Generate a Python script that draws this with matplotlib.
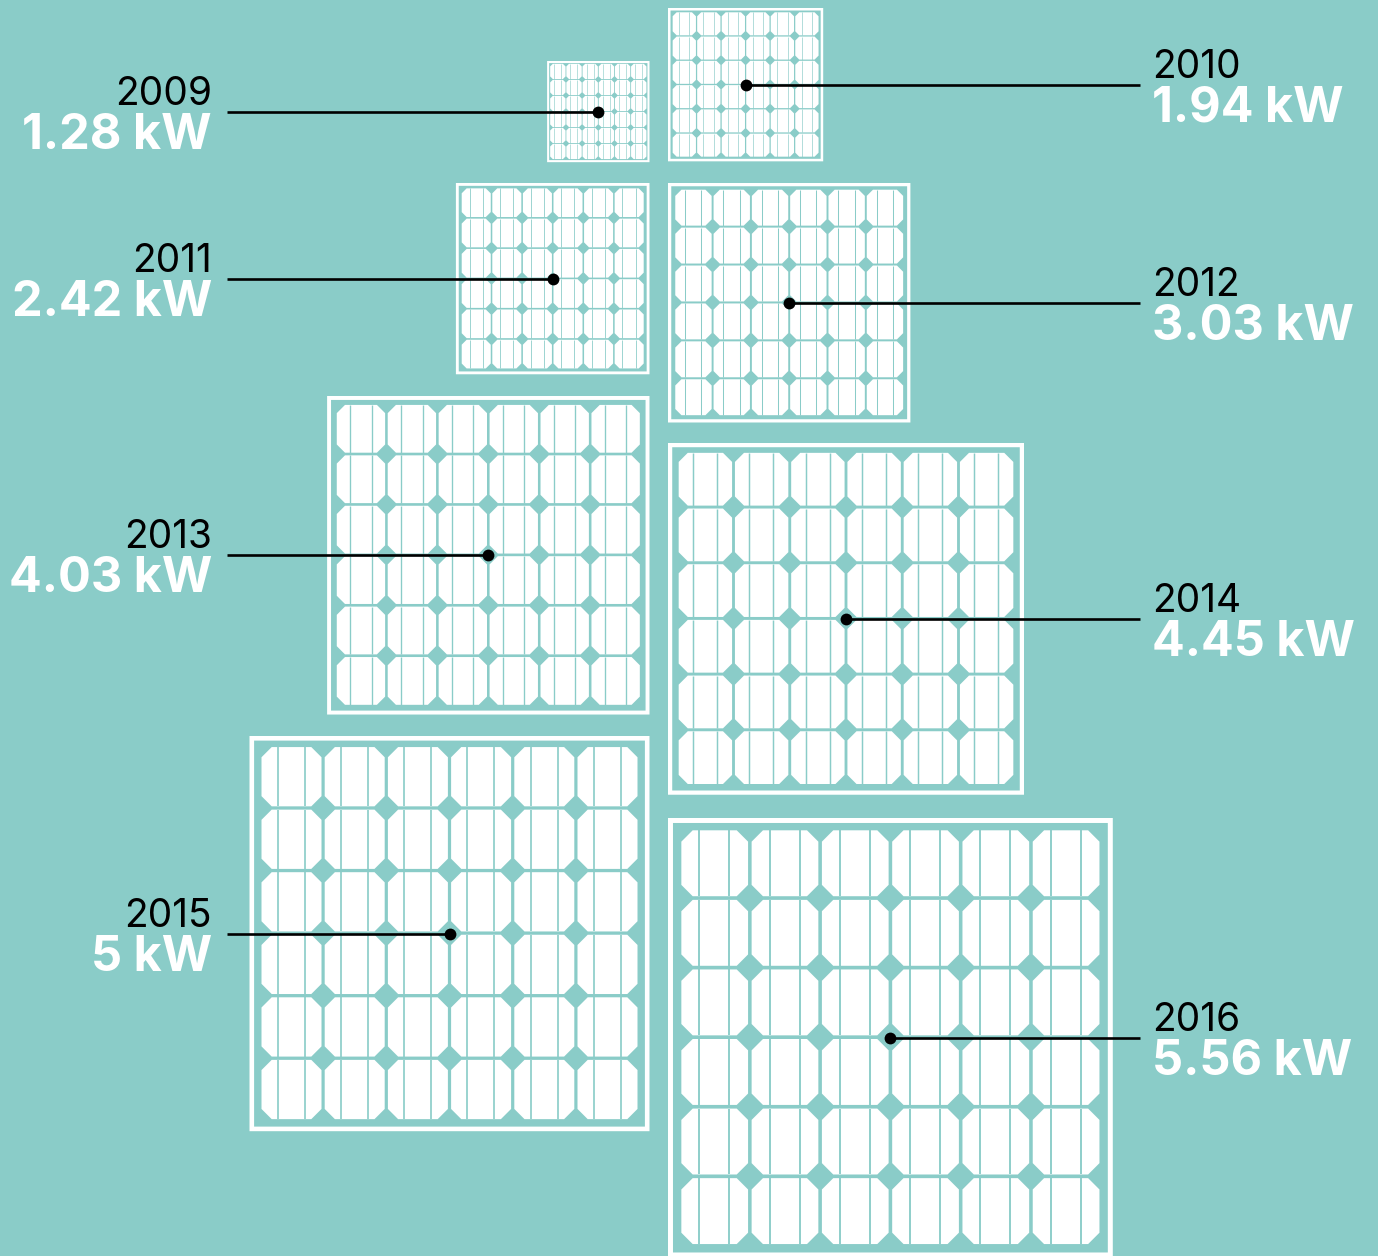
from matplotlib import pyplot as plt
from matplotlib.patches import Polygon, Rectangle

years = ['2009', '2010', '2011', '2012', '2013', '2014', '2015', '2016']
capacity_kw = [1.28, 1.94, 2.42, 3.03, 4.03, 4.45, 5.0, 5.56]
capacity_labels = ['1.28 kW', '1.94 kW', '2.42 kW', '3.03 kW', '4.03 kW', '4.45 kW', '5 kW', '5.56 kW']

# layout in pixels
panel_top = [61, 8, 183, 183, 396, 443, 736, 818]
LEFT_EDGE = 649.5
RIGHT_EDGE = 668
PX_PER_KW = 80
BG = '#8ACCC8'
WHITE = '#FFFFFF'

plt.rcParams['font.family'] = ['Inter', 'DejaVu Sans']

fig = plt.figure(figsize=(13.78, 12.56), dpi=100, facecolor=BG)
ax = fig.add_axes([0, 0, 1, 1])
ax.set_xlim(0, 1378)
ax.set_ylim(1256, 0)
ax.axis('off')


def draw_cell(ax, x, y, w, h, stripe):
    c = 0.17 * w
    pts = [(x+c, y), (x+w-c, y), (x+w, y+c), (x+w, y+h-c), (x+w-c, y+h), (x+c, y+h), (x, y+h-c), (x, y+c)]
    ax.add_patch(Polygon(pts, closed=True, facecolor=WHITE, edgecolor='none', zorder=2))
    for f in (0.27, 0.72):
        ax.plot([x+f*w, x+f*w], [y, y+h], color=BG, lw=stripe, solid_capstyle='butt', zorder=3)


def draw_panel(ax, x, y, w, h):
    frame = 1.2 + 0.0085 * w
    ax.add_patch(Rectangle((x+frame/2, y+frame/2), w-frame, h-frame, facecolor='none', edgecolor=WHITE, lw=frame*0.72, zorder=2, snap=False))
    stripe = max(0.6, 0.0042 * w) * 0.72
    for row in range(6):
        for col in range(6):
            draw_cell(ax, x+0.03*w+col*0.158*w, y+0.028*h+row*0.1583*h, 0.15*w, 0.15*h, stripe)


for i, (year, kw, label) in enumerate(zip(years, capacity_kw, capacity_labels)):
    w = kw * PX_PER_KW
    h = 0.988 * w
    is_left = i % 2 == 0
    x = LEFT_EDGE - w if is_left else RIGHT_EDGE
    y = panel_top[i]
    draw_panel(ax, x, y, w, h)
    cx, cy = x + w/2, y + h/2
    if is_left:
        ax.plot([227, cx], [cy, cy], color='black', lw=1.9, solid_capstyle='butt', zorder=5)
        tx, ha = 212, 'right'
    else:
        ax.plot([cx, 1140], [cy, cy], color='black', lw=1.9, solid_capstyle='butt', zorder=5)
        tx, ha = 1152, 'left'
    ax.plot([cx], [cy], marker='o', ms=8.5, color='black', mew=0, zorder=6)
    ax.text(tx, cy-7, year, ha=ha, va='baseline', fontsize=28, color='black')
    ax.text(tx, cy+37, label, ha=ha, va='baseline', fontsize=35, fontweight='bold', color=WHITE)

fig.savefig('out.png', dpi=100, facecolor=BG)
